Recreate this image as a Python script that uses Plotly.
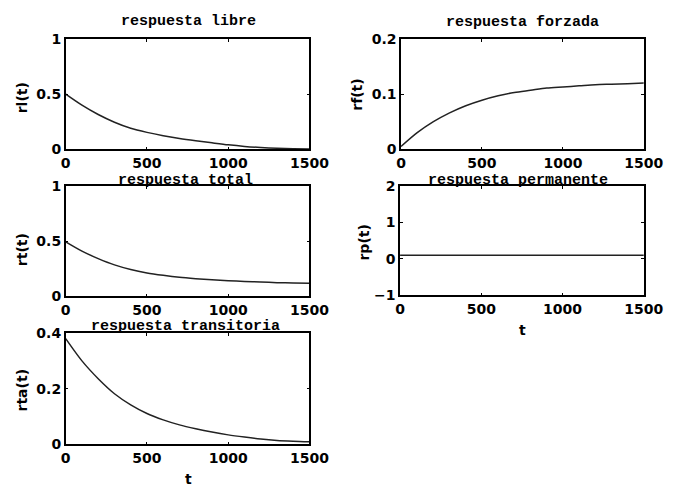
import plotly.graph_objects as go

t = [0, 100, 200, 300, 400, 500, 600, 700, 800, 900, 1000, 1100, 1200, 1300, 1400, 1500]
r_libre = [0.50, 0.40, 0.315, 0.245, 0.19, 0.153, 0.123, 0.098, 0.077, 0.058, 0.04, 0.026, 0.016, 0.009, 0.005, 0.003]
r_forzada = [0.005, 0.03, 0.05, 0.066, 0.079, 0.089, 0.097, 0.103, 0.107, 0.111, 0.113, 0.115, 0.117, 0.118, 0.119, 0.12]
r_total = [0.494, 0.41, 0.342, 0.285, 0.243, 0.212, 0.19, 0.172, 0.16, 0.15, 0.142, 0.135, 0.13, 0.124, 0.121, 0.119]
t_perm = [0, 1500]
r_perm = [0.1, 0.1]
r_trans = [0.38, 0.30, 0.236, 0.182, 0.142, 0.111, 0.088, 0.07, 0.056, 0.044, 0.034, 0.026, 0.019, 0.014, 0.011, 0.009]

titles = ["respuesta libre", "respuesta forzada", "respuesta total", "respuesta permanente", "respuesta transitoria"]
ylabels = ["rl(t)", "rf(t)", "rt(t)", "rp(t)", "rta(t)"]
y_ranges = [[0, 1], [0, 0.2], [0, 1], [-1, 2], [0, 0.4]]
y_ticks = [[0, 0.5, 1], [0, 0.1, 0.2], [0, 0.5, 1], [-1, 0, 1, 2], [0, 0.2, 0.4]]
x_ticks = [0, 500, 1000, 1500]

W, H = 686, 492
# pixel boxes: (left, right, top, bottom)
boxes = [(63, 316, 32, 146), (411, 663, 32, 146), (63, 316, 184, 298),
         (410, 663, 184, 297), (63, 316, 336, 451)]
title_pos = [(190, 14), (537, 15), (187, 178), (532, 178), (187, 329)]
ylab_pos = [(18, 93), (365, 90), (18, 250), (373, 242), (18, 395)]

series = [(t, r_libre), (t, r_forzada), (t, r_total), (t_perm, r_perm), (t, r_trans)]

fig = go.Figure()
tickfont = dict(family="DejaVu Sans", size=14, color="black", weight="bold")
annotations = []
for i, (xs, ys) in enumerate(series):
    n = i + 1
    xa = "x" if n == 1 else f"x{n}"
    ya = "y" if n == 1 else f"y{n}"
    fig.add_trace(go.Scatter(x=xs, y=ys, mode="lines", xaxis=xa, yaxis=ya,
                             line=dict(color="#222", width=1.5, shape="spline", smoothing=0.8),
                             showlegend=False))
    l, r, tp, b = boxes[i]
    fig.layout[f"xaxis{n}"] = dict(domain=[l / W, r / W], anchor=ya, range=[0, 1500],
                                   tickvals=x_ticks, showgrid=False, zeroline=False,
                                   showline=True, mirror="ticks", linecolor="black", linewidth=1.5,
                                   ticks="inside", ticklen=3, tickcolor="black",
                                   tickfont=tickfont)
    fig.layout[f"yaxis{n}"] = dict(domain=[1 - b / H, 1 - tp / H], anchor=xa, range=y_ranges[i],
                                   tickvals=y_ticks[i], showgrid=False, zeroline=False,
                                   showline=True, mirror="ticks", linecolor="black", linewidth=1.5,
                                   ticks="inside", ticklen=3, tickcolor="black",
                                   tickfont=tickfont)
    tx, ty = title_pos[i]
    annotations.append(dict(text=f"<b>{titles[i]}</b>", x=tx / W, y=1 - ty / H, xref="paper", yref="paper",
                            showarrow=False, xanchor="center", yanchor="middle",
                            font=dict(family="Liberation Mono", size=15, color="black")))
    lx, ly = ylab_pos[i]
    annotations.append(dict(text=f"<b>{ylabels[i]}</b>", x=lx / W, y=1 - ly / H, xref="paper", yref="paper",
                            showarrow=False, xanchor="center", yanchor="middle", textangle=-90,
                            font=dict(family="DejaVu Sans", size=14, color="black")))

for (tx, ty) in [(537, 333), (190, 487)]:
    annotations.append(dict(text="<b>t</b>", x=tx / W, y=1 - ty / H, xref="paper", yref="paper",
                            showarrow=False, xanchor="center", yanchor="middle",
                            font=dict(family="DejaVu Sans", size=14, color="black")))

fig.update_layout(width=W, height=H, margin=dict(l=0, r=0, t=0, b=0),
                  paper_bgcolor="white", plot_bgcolor="white", annotations=annotations)
fig.write_html("out.html")
